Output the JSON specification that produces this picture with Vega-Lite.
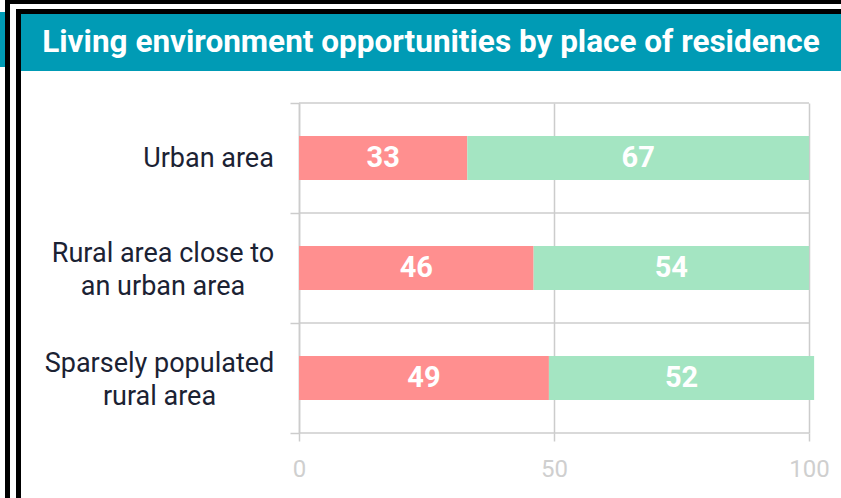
{
  "$schema": "https://vega.github.io/schema/vega-lite/v6.json",
  "padding": 0,
  "background": "white",
  "spacing": 0,
  "config": {"view": {"stroke": null}, "concat": {"spacing": 0}, "font": "Roboto"},
  "hconcat": [
    {"bounds": "flush", "spacing": 0, "vconcat": [
      {"width": 5, "height": 12, "data": {"values": []}, "mark": "rect", "encoding": {}},
      {"width": 5, "height": 55, "data": {"values": []}, "mark": "rect", "encoding": {}, "view": {"fill": "#009bb5", "stroke": null}},
      {"width": 5, "height": 431, "data": {"values": []}, "mark": "rect", "encoding": {}}
    ]},
    {"width": 5, "height": 498, "data": {"values": []}, "mark": "rect", "encoding": {}, "view": {"fill": "#000000", "stroke": null}},
    {"bounds": "flush", "spacing": 0, "vconcat": [
      {"width": 6, "height": 4, "data": {"values": []}, "mark": "rect", "encoding": {}, "view": {"fill": "#000000", "stroke": null}},
      {"width": 6, "height": 494, "data": {"values": []}, "mark": "rect", "encoding": {}}
    ]},
    {"bounds": "flush", "spacing": 0, "vconcat": [
      {"width": 5, "height": 4, "data": {"values": []}, "mark": "rect", "encoding": {}, "view": {"fill": "#000000", "stroke": null}},
      {"width": 5, "height": 5, "data": {"values": []}, "mark": "rect", "encoding": {}},
      {"width": 5, "height": 489, "data": {"values": []}, "mark": "rect", "encoding": {}, "view": {"fill": "#000000", "stroke": null}}
    ]},
    {"bounds": "flush", "spacing": 0, "vconcat": [
      {"width": 820, "height": 4, "data": {"values": []}, "mark": "rect", "encoding": {}, "view": {"fill": "#000000", "stroke": null}},
      {"width": 820, "height": 5, "data": {"values": []}, "mark": "rect", "encoding": {}},
      {"width": 820, "height": 5, "data": {"values": []}, "mark": "rect", "encoding": {}, "view": {"fill": "#000000", "stroke": null}},
      {
        "width": 820, "height": 57,
        "view": {"fill": "#009bb5", "stroke": null},
        "data": {"values": [{"title": "Living environment opportunities by place of residence"}]},
        "mark": {"type": "text", "color": "white", "fontSize": 31.5, "fontWeight": "bold", "font": "Roboto", "align": "center", "baseline": "middle"},
        "encoding": {"text": {"field": "title", "type": "nominal"}}
      },
      {"width": 820, "height": 32, "data": {"values": []}, "mark": "rect", "encoding": {}},
      {
        "width": 820, "height": 330,
        "data": {"values": [
          {"cat": "Urban area", "series": "negative", "value": 33},
          {"cat": "Urban area", "series": "positive", "value": 67},
          {"cat": "Rural area close to an urban area", "series": "negative", "value": 46},
          {"cat": "Rural area close to an urban area", "series": "positive", "value": 54},
          {"cat": "Sparsely populated rural area", "series": "negative", "value": 49},
          {"cat": "Sparsely populated rural area", "series": "positive", "value": 52}
        ]},
        "layer": [
          {
            "mark": {"type": "bar", "height": {"band": 0.4}},
            "encoding": {
              "y": {
                "field": "cat", "type": "nominal", "sort": null,
                "scale": {"paddingInner": 0, "paddingOuter": 0},
                "axis": {
                  "title": null, "offset": -278, "domain": true, "domainColor": "#cccccc", "domainWidth": 1.5,
                  "ticks": true, "tickBand": "extent", "tickSize": 9, "tickColor": "#cccccc", "tickWidth": 1.5,
                  "grid": false, "labelFont": "Roboto", "labelFontSize": 27, "labelColor": "#1b2233",
                  "labelLimit": 0, "labelLineHeight": 33, "labelAlign": "center",
                  "labelPadding": {"condition": [
                    {"test": "datum.value == 'Rural area close to an urban area'", "value": 127.5},
                    {"test": "datum.value == 'Sparsely populated rural area'", "value": 131}
                  ], "value": 82},
                  "labelOffset": {"condition": {"test": "datum.value != 'Urban area'", "value": -14.5}, "value": 0},
                  "labelExpr": "datum.value == 'Rural area close to an urban area' ? ['Rural area close to', 'an urban area'] : datum.value == 'Sparsely populated rural area' ? ['Sparsely populated', 'rural area'] : datum.value"
                }
              },
              "x": {
                "field": "value", "type": "quantitative", "stack": "zero",
                "scale": {"domain": [-54.51, 106.27], "nice": false, "zero": false},
                "axis": {
                  "title": null, "values": [0, 50, 100], "domain": false, "grid": true, "gridColor": "#cccccc", "gridWidth": 1.5,
                  "ticks": true, "tickSize": 8, "tickColor": "#cccccc", "tickWidth": 1.5,
                  "labelFont": "Roboto", "labelFontSize": 24, "labelColor": "#cfcfcf", "labelPadding": 16
                }
              },
              "color": {"field": "series", "type": "nominal", "scale": {"domain": ["negative", "positive"], "range": ["#ff8f8f", "#a4e5c2"]}, "legend": null}
            }
          },
          {
            "transform": [{"filter": "datum.series === 'negative'"}],
            "mark": {"type": "rule", "color": "#cccccc", "strokeWidth": 1.5},
            "encoding": {
              "y": {"field": "cat", "type": "nominal", "sort": null, "bandPosition": 0},
              "x": {"datum": 0, "type": "quantitative"},
              "x2": {"datum": 100}
            }
          },
          {
            "transform": [{"filter": "datum.series === 'negative' && datum.cat === 'Sparsely populated rural area'"}],
            "mark": {"type": "rule", "color": "#cccccc", "strokeWidth": 1.5},
            "encoding": {
              "y": {"field": "cat", "type": "nominal", "sort": null, "bandPosition": 1},
              "x": {"datum": 0, "type": "quantitative"},
              "x2": {"datum": 100}
            }
          },
          {
            "transform": [
              {"stack": "value", "groupby": ["cat"], "sort": [{"field": "series", "order": "ascending"}], "as": ["v0", "v1"]},
              {"fold": ["v0", "v1"], "as": ["edge", "pos"]}
            ],
            "mark": {"type": "text", "color": "white", "fontSize": 29, "fontWeight": "bold", "font": "Roboto", "align": "center", "baseline": "middle"},
            "encoding": {
              "y": {"field": "cat", "type": "nominal", "sort": null},
              "x": {"aggregate": "mean", "field": "pos", "type": "quantitative"},
              "text": {"field": "value", "type": "quantitative"}
            }
          }
        ]
      }
    ]}
  ]
}
